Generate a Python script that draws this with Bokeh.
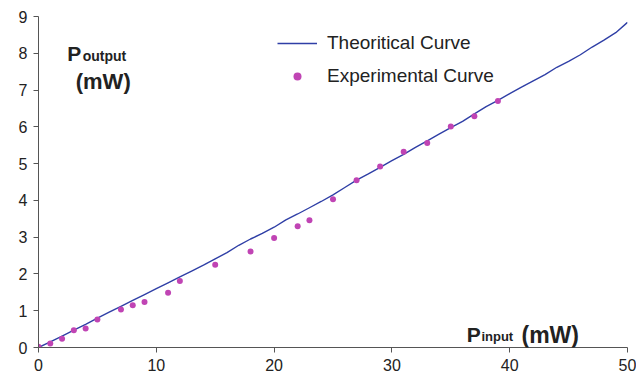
from bokeh.plotting import figure
from bokeh.models import Range1d, Label, Legend, LegendItem, FixedTicker
from bokeh.embed import file_html
from bokeh.resources import INLINE

# Theoretical curve
theo_x = list(range(0, 51))
theo_y = [0.00, 0.15, 0.31, 0.47, 0.63, 0.80, 0.96, 1.12, 1.28, 1.44,
          1.60, 1.76, 1.92, 2.08, 2.24, 2.41, 2.58, 2.78, 2.95, 3.10,
          3.27, 3.47, 3.63, 3.80, 3.97, 4.15, 4.35, 4.55, 4.72, 4.90,
          5.08, 5.25, 5.44, 5.62, 5.80, 5.98, 6.15, 6.35, 6.55, 6.72,
          6.90, 7.08, 7.25, 7.42, 7.62, 7.78, 7.96, 8.17, 8.36, 8.56, 8.84]

# Experimental points
exp_x = [0, 1, 2, 3, 4, 5, 7, 8, 9, 11, 12, 15, 18, 20, 22, 23, 25, 27, 29, 31, 33, 35, 37, 39]
exp_y = [0.02, 0.11, 0.24, 0.47, 0.52, 0.76, 1.03, 1.15, 1.24, 1.49, 1.81, 2.25, 2.61, 2.98,
         3.30, 3.46, 4.03, 4.55, 4.92, 5.32, 5.56, 6.01, 6.29, 6.70]

x_ticks = [0, 10, 20, 30, 40, 50]
y_ticks = [0, 1, 2, 3, 4, 5, 6, 7, 8, 9]

FONT = "Liberation Sans"
LINE_C = "#2f3fa6"
DOT_C = "#c044b4"
AXIS_C = "#555555"
TXT_C = "#222222"

p = figure(frame_width=589, frame_height=331, output_backend="svg", toolbar_location=None,
           x_range=Range1d(0, 50), y_range=Range1d(0, 9),
           min_border_left=38, min_border_right=9, min_border_top=16, min_border_bottom=25)
p.outline_line_color = None
p.grid.grid_line_color = None
p.background_fill_color = "white"

for ax in (p.xaxis[0], p.yaxis[0]):
    ax.axis_line_color = AXIS_C
    ax.major_tick_line_color = AXIS_C
    ax.minor_tick_line_color = None
    ax.major_tick_in = 0
    ax.major_tick_out = 5
    ax.major_label_text_font = FONT
    ax.major_label_text_font_size = "16px"
    ax.major_label_text_color = TXT_C
    ax.major_label_standoff = 6
p.xaxis.ticker = FixedTicker(ticks=x_ticks)
p.yaxis.ticker = FixedTicker(ticks=y_ticks)

r_line = p.line(theo_x, theo_y, line_color=LINE_C, line_width=1.4)
r_dots = p.scatter(exp_x, exp_y, size=6, fill_color=DOT_C, line_color=None)

legend = Legend(items=[LegendItem(label="Theoritical Curve", renderers=[r_line]),
                       LegendItem(label="Experimental Curve", renderers=[r_dots])],
                location=(239, 260), padding=0, margin=0, spacing=11,
                glyph_width=40, glyph_height=20, label_height=20, label_standoff=10,
                label_text_font=FONT, label_text_font_size="19px", label_text_color=TXT_C,
                border_line_color=None, background_fill_alpha=0)
p.add_layout(legend, "center")

def lab(x, y, t, size, bold=True):
    p.add_layout(Label(x=x, y=y, text=t, text_font=FONT, text_font_size=size,
                       text_font_style="bold" if bold else "normal",
                       text_color=TXT_C, text_baseline="alphabetic", text_align="left"))

lab(2.45, 8.0, "P", "21px")
lab(3.75, 7.93, "output", "14px")
lab(3.16, 7.24, "(mW)", "22px")
lab(36.35, 0.345, "P", "21px")
lab(37.6, 0.29, "input", "13px")
lab(41.0, 0.345, "(mW)", "23px")

open("out.html", "w").write(file_html(p, INLINE))
